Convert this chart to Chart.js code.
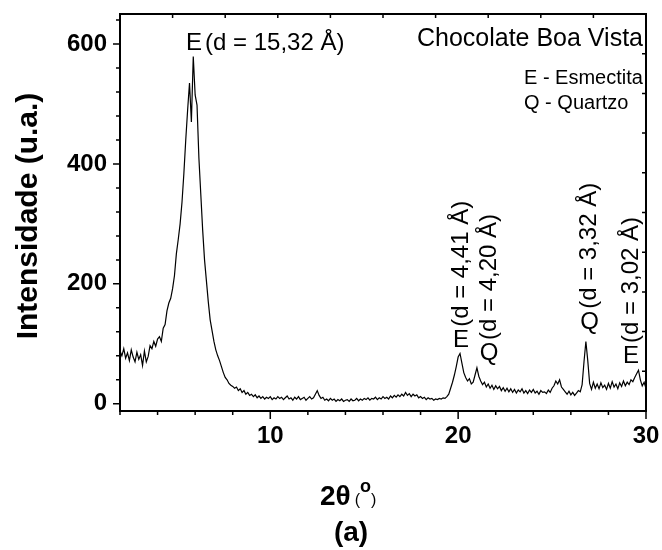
<!DOCTYPE html>
<html>
<head>
<meta charset="utf-8">
<script src="https://cdn.jsdelivr.net/npm/chart.js@4.4.1/dist/chart.umd.min.js"></script>
<style>
  html, body { margin: 0; padding: 0; background: #fff; }
  #wrap { width: 662px; height: 550px; }
</style>
</head>
<body>
<div id="wrap"><canvas id="drx" width="662" height="550"></canvas></div>
<script>
// DRX - Chocolate Boa Vista (2θ de 2 a 30 graus)
const twoTheta = [
  2.0, 2.1, 2.2, 2.3, 2.4, 2.5, 2.6, 2.7, 2.8, 2.9,
  3.0, 3.1, 3.2, 3.3, 3.4, 3.5, 3.6, 3.7, 3.8, 3.9,
  4.0, 4.1, 4.2, 4.3, 4.4, 4.5, 4.6, 4.7, 4.8, 4.9,
  5.0, 5.1, 5.2, 5.3, 5.4, 5.5, 5.6, 5.7, 5.8, 5.9,
  6.0, 6.1, 6.2, 6.3, 6.4, 6.5, 6.6, 6.7, 6.8, 6.9,
  7.0, 7.1, 7.2, 7.3, 7.4, 7.5, 7.6, 7.7, 7.8, 7.9,
  8.0, 8.1, 8.2, 8.3, 8.4, 8.5, 8.6, 8.7, 8.8, 8.9,
  9.0, 9.1, 9.2, 9.3, 9.4, 9.5, 9.6, 9.7, 9.8, 9.9,
  10.0, 10.1, 10.2, 10.3, 10.4, 10.5, 10.6, 10.7, 10.8, 10.9,
  11.0, 11.1, 11.2, 11.3, 11.4, 11.5, 11.6, 11.7, 11.8, 11.9,
  12.0, 12.1, 12.2, 12.3, 12.4, 12.5, 12.6, 12.7, 12.8, 12.9,
  13.0, 13.1, 13.2, 13.3, 13.4, 13.5, 13.6, 13.7, 13.8, 13.9,
  14.0, 14.1, 14.2, 14.3, 14.4, 14.5, 14.6, 14.7, 14.8, 14.9,
  15.0, 15.1, 15.2, 15.3, 15.4, 15.5, 15.6, 15.7, 15.8, 15.9,
  16.0, 16.1, 16.2, 16.3, 16.4, 16.5, 16.6, 16.7, 16.8, 16.9,
  17.0, 17.1, 17.2, 17.3, 17.4, 17.5, 17.6, 17.7, 17.8, 17.9,
  18.0, 18.1, 18.2, 18.3, 18.4, 18.5, 18.6, 18.7, 18.8, 18.9,
  19.0, 19.1, 19.2, 19.3, 19.4, 19.5, 19.6, 19.7, 19.8, 19.9,
  20.0, 20.1, 20.2, 20.3, 20.4, 20.5, 20.6, 20.7, 20.8, 20.9,
  21.0, 21.1, 21.2, 21.3, 21.4, 21.5, 21.6, 21.7, 21.8, 21.9,
  22.0, 22.1, 22.2, 22.3, 22.4, 22.5, 22.6, 22.7, 22.8, 22.9,
  23.0, 23.1, 23.2, 23.3, 23.4, 23.5, 23.6, 23.7, 23.8, 23.9,
  24.0, 24.1, 24.2, 24.3, 24.4, 24.5, 24.6, 24.7, 24.8, 24.9,
  25.0, 25.1, 25.2, 25.3, 25.4, 25.5, 25.6, 25.7, 25.8, 25.9,
  26.0, 26.1, 26.2, 26.3, 26.4, 26.5, 26.6, 26.7, 26.8, 26.9,
  27.0, 27.1, 27.2, 27.3, 27.4, 27.5, 27.6, 27.7, 27.8, 27.9,
  28.0, 28.1, 28.2, 28.3, 28.4, 28.5, 28.6, 28.7, 28.8, 28.9,
  29.0, 29.1, 29.2, 29.3, 29.4, 29.5, 29.6, 29.7, 29.8, 29.9,
  30.0
];

const intensity = [
  88, 80, 92, 76, 85, 72, 90, 78, 70, 86,
  74, 82, 64, 88, 70, 79, 97, 92, 104, 96,
  108, 112, 104, 126, 132, 155, 168, 176, 192, 214,
  250, 274, 300, 336, 384, 440, 490, 535, 470, 579,
  515, 498, 410, 350, 290, 240, 205, 170, 140, 122,
  104, 90, 80, 72, 62, 52, 44, 40, 34, 31,
  29, 26, 28, 22, 25, 19, 22, 16, 19, 14,
  16, 12, 15, 10, 13, 9, 12, 8, 11, 9,
  12, 7, 10, 8, 12, 9, 11, 7, 10, 13,
  8, 10, 6, 11, 8, 12, 7, 9, 11, 6,
  9, 12, 8, 10, 16, 22, 14, 9, 11, 6,
  8, 5, 9, 6, 8, 4, 7, 5, 8, 4,
  6, 7, 4, 8, 5, 6, 9, 5, 8, 6,
  9, 7, 10, 6, 9, 8, 11, 7, 10, 8,
  12, 9, 11, 8, 13, 10, 14, 11, 15, 12,
  16, 13, 19, 14, 17, 12, 16, 13, 15, 10,
  12, 9, 11, 7, 10, 8, 9, 6, 8, 7,
  9, 8, 10, 9, 12, 16, 26, 36, 48, 62,
  78, 84, 68, 52, 44, 38, 42, 33, 36, 48,
  60, 46, 38, 32, 36, 28, 33, 26, 31, 24,
  30, 25, 29, 22, 27, 21, 26, 20, 25, 19,
  24, 18, 23, 20, 25, 18, 22, 17, 23, 19,
  24, 18, 21, 16, 22, 19, 20, 17, 23, 19,
  26, 30, 38, 33, 40, 28, 24, 20, 16, 21,
  15, 19, 14, 18, 22, 20, 32, 70, 104, 72,
  34, 24, 36, 26, 33, 25, 35, 27, 31, 24,
  34, 26, 37, 28, 33, 25, 35, 29, 38, 30,
  36, 32, 40, 37, 44, 50, 56, 40, 30, 36,
  26
];

const xTicks = [10, 20, 30];
const xMinorTicks = [2, 4, 6, 8, 12, 14, 16, 18, 22, 24, 26, 28];
const yTicks = [0, 200, 400, 600];
const yMinorTicks = [40, 80, 120, 160, 240, 280, 320, 360, 440, 480, 520, 560, 640];

const peakLetters = ['E', 'Q', 'Q', 'E'];
const peakSpacings = ['4,41', '4,20', '3,32', '3,02'];

// onde cada rótulo de pico fica (2θ, intensidade da base da letra)
const peakLabelAt = [20.15, 21.65, 27.0, 29.2];
const peakLabelBase = [95, 73, 125, 68];

const FONT = '"Liberation Sans", Arial, Helvetica, sans-serif';

const moldura = {
  id: 'moldura',
  afterDraw(chart) {
    const c = chart.ctx;
    const a = chart.chartArea;
    const xs = chart.scales.x;
    const ys = chart.scales.y;

    c.save();
    c.strokeStyle = '#000';
    c.fillStyle = '#000';

    // topo e lado direito
    c.lineWidth = 2;
    c.beginPath();
    c.moveTo(a.left, a.top);
    c.lineTo(a.right, a.top);
    c.lineTo(a.right, a.bottom);
    c.stroke();

    // ticks de fora (x e y)
    c.lineWidth = 1.5;
    c.beginPath();
    xTicks.forEach(v => {
      const px = xs.getPixelForValue(v);
      c.moveTo(px, a.bottom);
      c.lineTo(px, a.bottom + 8);
    });
    xMinorTicks.forEach(v => {
      const px = xs.getPixelForValue(v);
      c.moveTo(px, a.bottom);
      c.lineTo(px, a.bottom + 4);
    });
    yTicks.forEach(v => {
      const py = ys.getPixelForValue(v);
      c.moveTo(a.left, py);
      c.lineTo(a.left - 7, py);
    });
    yMinorTicks.forEach(v => {
      const py = ys.getPixelForValue(v);
      c.moveTo(a.left, py);
      c.lineTo(a.left - 4, py);
    });
    // ticks internos do topo e da direita
    for (let k = 1; k < 10; k++) {
      const px = a.left + (a.right - a.left) * k / 10;
      c.moveTo(px, a.top);
      c.lineTo(px, a.top + 4);
      const py = a.bottom - (a.bottom - a.top) * k / 10;
      c.moveTo(a.right, py);
      c.lineTo(a.right - 4, py);
    }
    c.stroke();

    // título e legenda
    c.font = '25px ' + FONT;
    c.textAlign = 'right';
    c.textBaseline = 'alphabetic';
    c.fillText('Chocolate Boa Vista', a.right - 3, 46);
    c.font = '20px ' + FONT;
    c.textAlign = 'left';
    c.fillText('E - Esmectita', 524, 84);
    c.fillText('Q - Quartzo', 524, 109);

    // pico principal
    c.font = '24px ' + FONT;
    c.fillText('E', 186, 50);
    c.fillText('(d = 15,32 Å)', 205, 50);

    // demais picos: letra em pé, distância rotacionada
    peakLetters.forEach((letra, i) => {
      const px = xs.getPixelForValue(peakLabelAt[i]);
      const base = ys.getPixelForValue(peakLabelBase[i]);
      c.font = '24px ' + FONT;
      c.textAlign = 'center';
      c.textBaseline = 'alphabetic';
      c.fillText(letra, px, base);
      c.save();
      c.translate(px, base - 20);
      c.rotate(-Math.PI / 2);
      c.textAlign = 'left';
      c.textBaseline = 'middle';
      c.fillText('(d = ' + peakSpacings[i] + ' Å)', 0, 0);
      c.restore();
    });

    // eixo y
    c.save();
    c.translate(29, 216);
    c.rotate(-Math.PI / 2);
    c.font = 'bold 30px ' + FONT;
    c.textAlign = 'center';
    c.textBaseline = 'middle';
    c.fillText('Intensidade (u.a.)', 0, 0);
    c.restore();

    // eixo x: 2θ (°)
    c.textAlign = 'left';
    c.textBaseline = 'alphabetic';
    let x0 = 320;
    c.font = 'bold 28px ' + FONT;
    c.fillText('2θ', x0, 505);
    x0 += c.measureText('2θ').width + 4;
    c.font = '16px ' + FONT;
    c.fillText('(', x0, 505);
    x0 += c.measureText('(').width;
    c.font = 'bold 18px ' + FONT;
    c.fillText('o', x0, 492);
    x0 += c.measureText('o').width;
    c.font = '16px ' + FONT;
    c.fillText(')', x0, 505);

    c.font = 'bold 28px ' + FONT;
    c.textAlign = 'center';
    c.fillText('(a)', 351, 541);

    c.restore();
  }
};

const ctx = document.getElementById('drx').getContext('2d');

const grafico = new Chart(ctx, {
  type: 'line',
  data: {
    datasets: [{
      data: twoTheta.map((t, i) => ({ x: t, y: intensity[i] })),
      borderColor: '#000',
      borderWidth: 1.2,
      pointRadius: 0,
      tension: 0,
      fill: false
    }]
  },
  options: {
    responsive: false,
    animation: false,
    devicePixelRatio: 1,
    layout: { padding: { top: 14, right: 16, left: 0, bottom: 0 } },
    plugins: {
      legend: { display: false },
      tooltip: { enabled: false }
    },
    scales: {
      x: {
        type: 'linear',
        min: 2,
        max: 30,
        afterBuildTicks: s => { s.ticks = xTicks.map(v => ({ value: v })); },
        afterFit: s => {
          s.height = 139;
          s.paddingLeft = 0;
          s.paddingRight = 0;
        },
        grid: { display: false, drawTicks: false },
        border: { display: true, color: '#000', width: 2 },
        ticks: {
          color: '#000',
          padding: 11,
          maxRotation: 0,
          font: { family: FONT, size: 24, weight: 'bold' }
        }
      },
      y: {
        min: -12,
        max: 650,
        afterBuildTicks: s => { s.ticks = yTicks.map(v => ({ value: v })); },
        afterFit: s => {
          s.width = 120;
          s.paddingTop = 0;
          s.paddingBottom = 0;
        },
        grid: { display: false, drawTicks: false },
        border: { display: true, color: '#000', width: 2 },
        ticks: {
          color: '#000',
          padding: 13,
          font: { family: FONT, size: 24, weight: 'bold' }
        }
      }
    }
  },
  plugins: [moldura]
});
</script>
</body>
</html>
